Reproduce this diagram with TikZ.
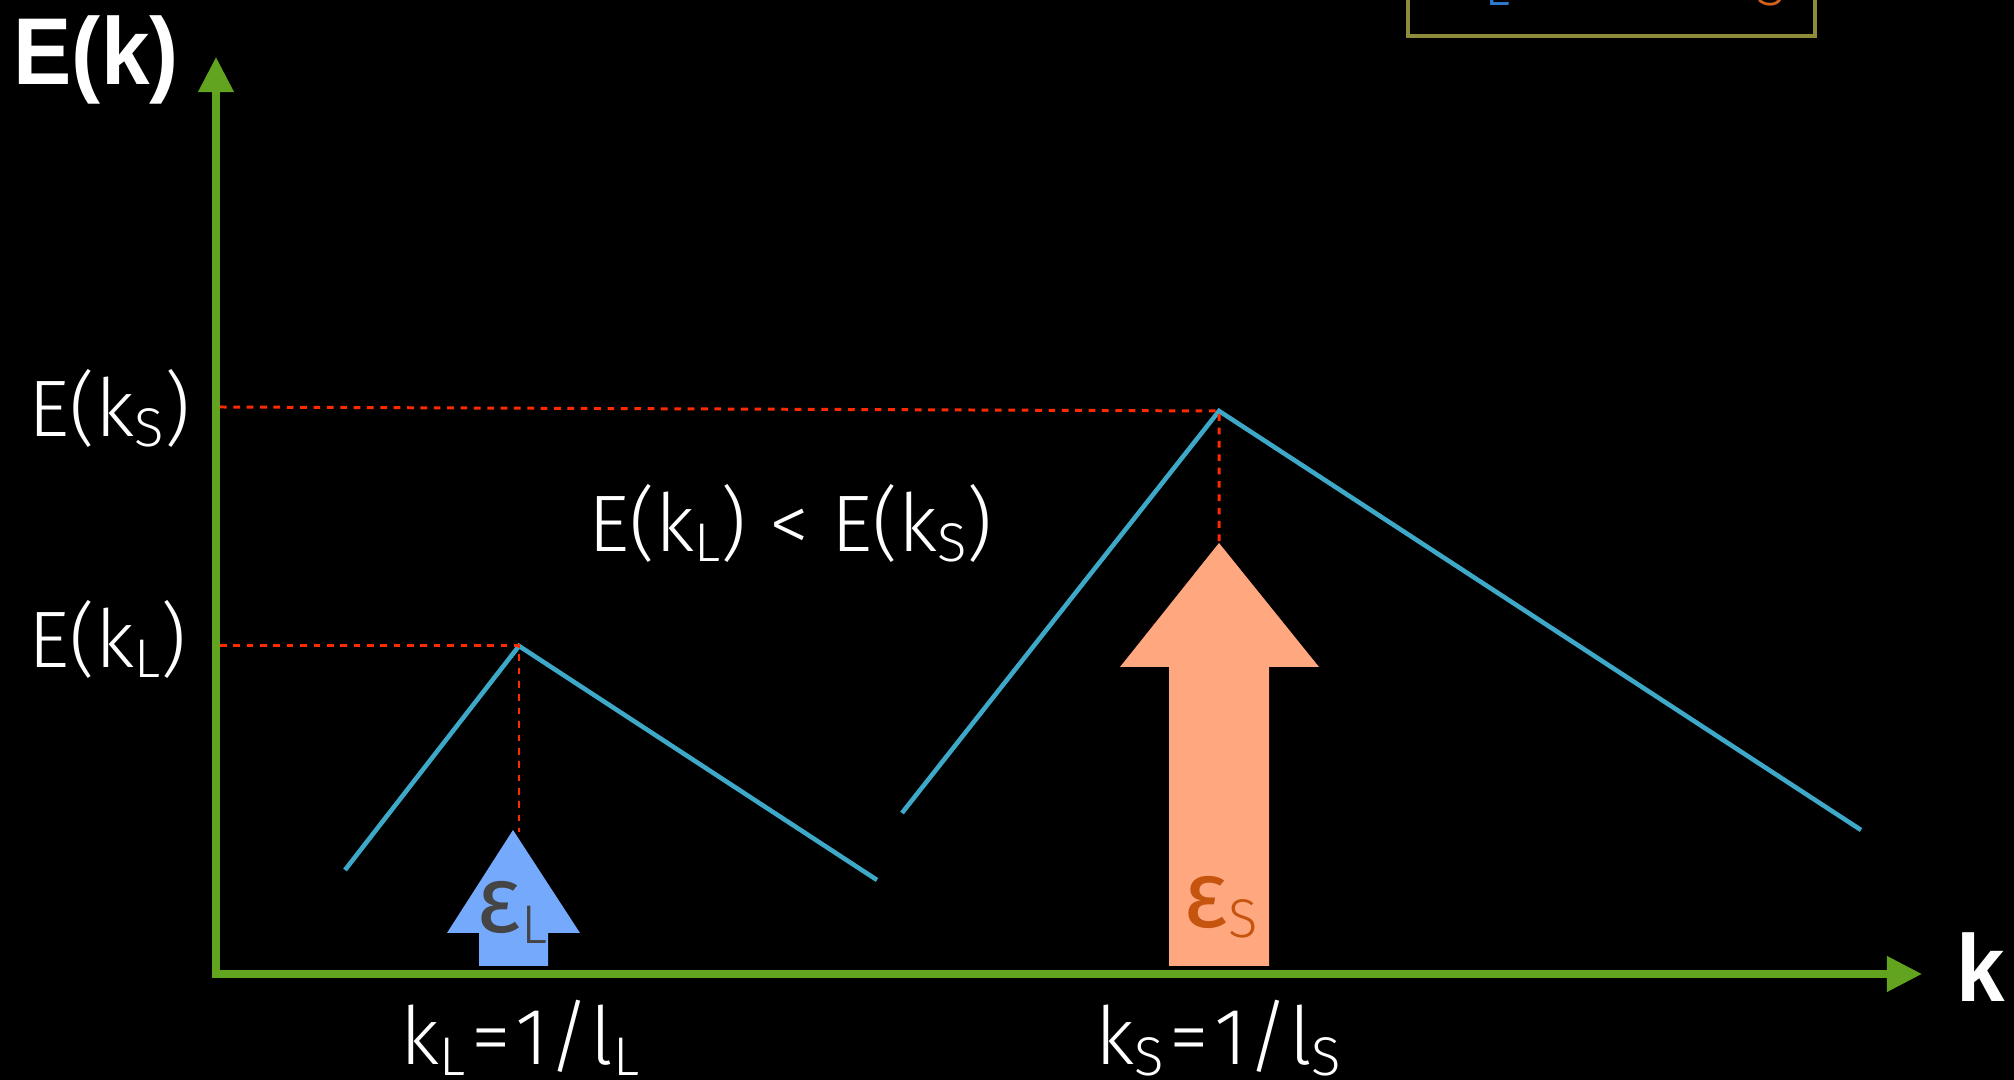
\documentclass[tikz,border=0pt]{standalone}
\usepackage{fontspec}
\setmainfont{Fira Sans Light}
\newfontfamily\epsfont{Fira Sans}
\newfontfamily\headfont{Liberation Sans}
\usetikzlibrary{arrows.meta}

\definecolor{axisgreen}{HTML}{62A420}
\definecolor{curveblue}{HTML}{3EA8C8}
\definecolor{guidered}{HTML}{FF2A00}
\definecolor{largefill}{HTML}{74A9FB}
\definecolor{smallfill}{HTML}{FFA77F}
\definecolor{largetext}{HTML}{454545}
\definecolor{smalltext}{HTML}{C4540E}
\definecolor{keyframe}{HTML}{8E8B3A}
\definecolor{keyblue}{HTML}{2C7BD0}
\definecolor{keyorange}{HTML}{D2611A}

% subscript in small capitals, dropped below the baseline
\newcommand{\lowsub}[1]{\raisebox{-0.1cm}{\fontsize{15.5}{16}\selectfont #1}}
% narrow bold axis title
\newcommand{\axistitle}[1]{\scalebox{0.92}[1]{#1}}

\tikzset{
  axis/.style={draw=axisgreen, line width=2pt,
    {Triangle[width=0.34cm,length=0.35cm]}-{Triangle[width=0.34cm,length=0.35cm]}},
  curve/.style={draw=curveblue, line width=1.3pt},
  guide/.style={draw=guidered, line width=0.85pt, dash pattern=on 1.9pt off 1.9pt},
  label/.style={inner sep=0pt, text=white, anchor=base west,
    font=\fontsize{22.8}{26}\selectfont},
  title/.style={inner sep=0pt, text=white, anchor=base west,
    font=\headfont\bfseries\fontsize{27}{30}\selectfont},
  epslabel/.style={inner sep=0pt, anchor=base west,
    font=\fontsize{27}{30}\selectfont},
}

\begin{document}
\begin{tikzpicture}[x=0.01cm, y=-0.01cm]
  % Canvas
  \clip (0,0) rectangle (2014,1080);
  \fill[black] (0,0) rectangle (2014,1080);
  % Key box, cut by the top edge
  \draw[keyframe, line width=1.4pt] (1408,-40) rectangle (1815,36);
  \node[epslabel, anchor=base east, text=keyblue] (keyL) at (1511,-4) {{\epsfont ε}\lowsub{L}};
  \node[epslabel, anchor=base east, text=keyorange] (keyS) at (1787,-4) {{\epsfont ε}\lowsub{S}};
  % Axes
  \coordinate (origin) at (216,974);
  \coordinate (ytip) at (216,57);
  \coordinate (xtip) at (1922,974);
  \draw[axis] (ytip) -- (origin) -- (xtip);
  \node[title] (Eaxis) at (13,85) {\axistitle{E(k)}};
  \node[title] (kaxis) at (1956,1002) {\axistitle{k}};
  % Spectrum, large and small scales
  \coordinate (peakL) at (519,646);
  \coordinate (peakS) at (1219,411);
  \draw[curve] (345,870) -- (peakL) -- (877,880);
  \draw[curve] (902,813) -- (peakS) -- (1861,830);
  % Energy injection arrows
  \fill[largefill] (479,966) -- (479,933) -- (447,933) -- (513,830)
    -- (580,933) -- (548,933) -- (548,966) -- cycle;
  \fill[smallfill] (1169,966) -- (1169,667) -- (1120,667) -- (1219,543)
    -- (1319,667) -- (1269,667) -- (1269,966) -- cycle;
  \coordinate (tipL) at (519,832);
  \coordinate (tipS) at (1219,543);
  \node[epslabel, text=largetext] (epsL) at (476,933) {{\epsfont ε}\lowsub{L}};
  \node[epslabel, text=smalltext] (epsS) at (1183,928) {{\epsfont ε}\lowsub{S}};
  % Guide lines
  \coordinate (levelS) at (220,407);
  \coordinate (levelL) at (220,646);
  \draw[guide] (levelS) -- (peakS) -- (tipS);
  \draw[guide] (levelL) -- (peakL) -- (tipL);
  % Labels
  \node[label] (ES) at (28,437) {E(k\lowsub{S})};
  \node[label] (EL) at (28,668) {E(k\lowsub{L})};
  \node[label] (compare) at (588,552) {E(k\lowsub{L}) < E(k\lowsub{S})};
  \node[label] (kL) at (400,1065) {k\lowsub{L}\kern1.5pt=\kern1.5pt1/l\lowsub{L}};
  \node[label] (kS) at (1095,1065) {k\lowsub{S}\kern1.5pt=\kern1.5pt1/l\lowsub{S}};
\end{tikzpicture}
\end{document}
